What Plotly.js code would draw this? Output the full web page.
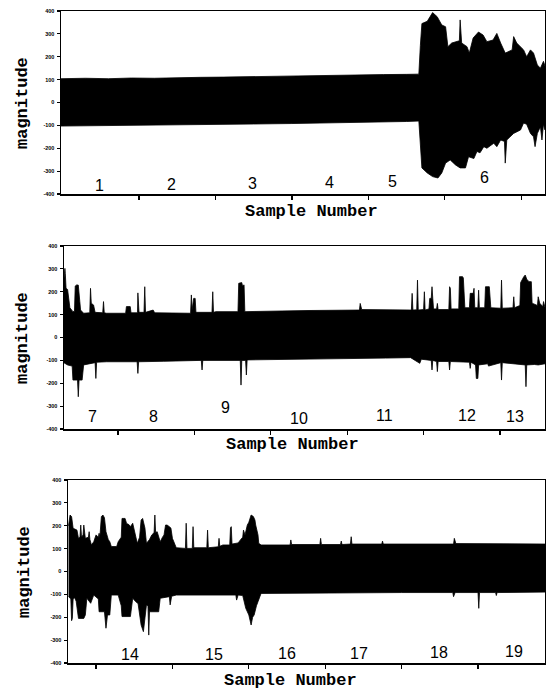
<!DOCTYPE html>
<html><head><meta charset="utf-8">
<script src="https://cdn.plot.ly/plotly-3.0.1.min.js"></script>
<style>html,body{margin:0;padding:0;background:#fff}</style>
</head><body><div id="chart" style="width:546px;height:691px"></div>
<script>
// ---------- data (x in tick units of "Sample Number", y = magnitude) ----------
const magTicks = [-400,-300,-200,-100,0,100,200,300,400];
const sampleTicks = [1,2,3,4,5,6];

// Panel 1 (segments 1-6)
const p1UpperX = [-0.02,0.3,0.6,0.9,1.2,1.5,1.8,2.1,2.4,2.7,3.0,3.3,3.6,3.9,4.2,4.5,4.66,4.68,4.70,4.77,4.84,4.90,4.96,5.01,5.04,5.09,5.16,5.19,5.20,5.22,5.29,5.32,5.37,5.44,5.50,5.55,5.63,5.68,5.73,5.79,5.88,5.90,5.94,6.03,6.07,6.12,6.16,6.21,6.25,6.29,6.31];
const p1UpperY = [104,106,104,107,106,109,110,111,113,113,115,116,118,120,122,123,124,250,345,355,393,375,339,331,244,260,266,270,361,260,244,216,282,308,295,266,273,302,260,216,230,288,260,230,200,230,216,164,150,180,160];
const p1LowerX = [-0.02,0.5,1.0,1.5,2.0,2.5,3.0,3.5,4.0,4.5,4.66,4.68,4.70,4.77,4.84,4.91,4.96,5.01,5.07,5.14,5.20,5.27,5.31,5.38,5.42,5.46,5.51,5.55,5.64,5.68,5.73,5.78,5.79,5.81,5.90,5.99,6.03,6.07,6.12,6.16,6.18,6.21,6.25,6.27,6.29,6.31];
const p1LowerY = [-103,-102,-100,-97,-96,-94,-92,-89,-87,-83,-81,-200,-286,-308,-324,-330,-308,-265,-251,-273,-286,-286,-237,-245,-214,-220,-193,-200,-178,-193,-164,-170,-265,-164,-135,-120,-90,-95,-135,-150,-193,-135,-106,-164,-95,-120];
const p1Labels = ["1","2","3","4","5","6"];
const p1LabelX = [0.48,1.43,2.48,3.49,4.32,5.52];
const p1LabelY = [-362,-360,-352,-348,-345,-330];

// Panel 2 (segments 7-13)
const p2UpperX = [0.29,0.305,0.31,0.32,0.34,0.37,0.41,0.43,0.44,0.46,0.48,0.49,0.50,0.51,0.55,0.63,0.64,0.65,0.68,0.70,0.80,0.81,0.82,0.85,1.10,1.11,1.16,1.17,1.255,1.26,1.27,1.275,1.34,1.35,1.36,1.46,1.48,1.95,1.96,1.97,1.99,2.01,2.02,2.23,2.24,2.25,2.28,2.57,2.58,2.62,2.63,2.65,2.66,3.0,3.5,4.16,4.17,4.19,4.84,4.85,4.86,4.91,4.92,4.93,5.00,5.01,5.02,5.07,5.08,5.10,5.11,5.12,5.13,5.17,5.18,5.19,5.33,5.34,5.35,5.36,5.46,5.47,5.51,5.52,5.54,5.60,5.61,5.65,5.66,5.67,5.71,5.72,5.73,5.80,5.81,5.86,5.88,6.01,6.02,6.03,6.17,6.18,6.19,6.26,6.27,6.31,6.33,6.35,6.38,6.41,6.42,6.49,6.50,6.52,6.56,6.57,6.59];
const p2UpperY = [250,302,280,215,210,130,113,115,225,230,229,160,157,120,106,108,215,150,142,110,108,157,108,106,106,135,135,108,108,195,160,110,110,222,110,120,108,106,186,120,171,171,110,110,200,110,113,113,237,240,225,230,113,116,118,120,149,122,120,193,120,121,251,120,122,200,120,125,171,171,222,171,125,125,149,122,122,222,215,125,125,266,266,260,130,130,193,193,215,130,130,207,130,130,222,222,130,128,251,128,130,178,130,140,240,265,273,255,244,244,150,140,178,150,135,157,130];
const p2LowerX = [0.29,0.34,0.40,0.41,0.47,0.48,0.49,0.53,0.55,0.70,0.71,0.72,0.85,1.25,1.26,1.27,1.6,2.09,2.10,2.11,2.60,2.61,2.62,2.67,2.68,2.69,3.5,4.5,4.83,4.95,4.97,5.10,5.11,5.12,5.17,5.18,5.19,5.33,5.34,5.35,5.60,5.61,5.62,5.68,5.69,5.71,5.72,5.84,5.85,6.01,6.02,6.03,6.33,6.34,6.35,6.45,6.50,6.59];
const p2LowerY = [-110,-120,-125,-186,-186,-259,-186,-186,-120,-110,-179,-108,-106,-106,-157,-106,-104,-100,-142,-100,-100,-208,-100,-100,-164,-98,-94,-90,-88,-113,-95,-100,-142,-100,-105,-149,-105,-105,-142,-105,-108,-135,-108,-120,-179,-179,-120,-115,-125,-110,-186,-110,-120,-215,-120,-118,-120,-115];
const p2Labels = ["7","8","9","10","11","12","13"];
const p2LabelX = [0.66,1.46,2.41,3.37,4.49,5.57,6.20];
const p2LabelY = [-346,-346,-308,-352,-340,-340,-346];

// Panel 3 (segments 14-19)
const p3UpperX = [0.64,0.66,0.68,0.70,0.75,0.77,0.79,0.80,0.81,0.83,0.84,0.85,0.86,0.90,0.91,0.92,0.94,0.97,1.00,1.03,1.04,1.05,1.07,1.09,1.11,1.13,1.16,1.18,1.20,1.27,1.29,1.33,1.34,1.38,1.40,1.43,1.45,1.48,1.50,1.52,1.54,1.57,1.59,1.61,1.64,1.66,1.70,1.73,1.76,1.77,1.78,1.80,1.82,1.84,1.87,1.89,1.91,1.93,1.96,1.98,2.00,2.05,2.17,2.18,2.19,2.26,2.27,2.28,2.45,2.46,2.47,2.60,2.61,2.62,2.66,2.75,2.76,2.77,2.78,2.86,2.89,2.92,2.93,2.95,2.98,3.00,3.03,3.06,3.08,3.09,3.12,3.13,3.16,3.54,3.55,3.56,3.93,3.94,3.95,4.20,4.21,4.22,4.33,4.34,4.35,4.74,4.75,4.76,5.68,5.69,5.71,6.0,6.5,6.88];
const p3UpperY = [200,247,240,189,181,145,150,203,150,160,203,160,145,150,174,140,116,130,160,150,167,150,240,247,235,174,140,130,109,109,130,150,232,232,210,205,196,211,180,160,123,150,225,232,190,123,140,160,170,247,170,174,150,130,150,160,203,203,196,190,145,104,101,211,101,101,196,104,104,181,104,108,145,110,116,116,190,196,120,125,138,150,181,160,203,215,247,240,225,203,160,123,116,116,138,118,118,145,118,118,133,118,120,152,120,120,133,120,120,145,122,122,120,120];
const p3LowerX = [0.64,0.67,0.68,0.69,0.70,0.72,0.74,0.77,0.84,0.86,0.88,0.93,0.97,1.03,1.04,1.11,1.13,1.15,1.18,1.20,1.29,1.33,1.34,1.45,1.48,1.52,1.55,1.59,1.62,1.64,1.66,1.68,1.69,1.70,1.77,1.82,1.84,1.96,1.97,1.99,2.05,2.5,2.83,2.84,2.86,2.92,2.96,3.00,3.03,3.05,3.07,3.10,3.12,3.16,4.0,5.0,5.67,5.68,5.70,6.00,6.01,6.02,6.23,6.24,6.25,6.88];
const p3LowerY = [-110,-120,-215,-205,-120,-115,-130,-205,-205,-190,-117,-139,-103,-120,-176,-176,-248,-190,-190,-103,-103,-150,-197,-197,-117,-132,-140,-234,-263,-200,-146,-150,-278,-176,-176,-176,-117,-110,-146,-108,-103,-103,-103,-125,-103,-105,-161,-190,-234,-200,-190,-150,-132,-96,-94,-92,-92,-110,-92,-92,-161,-92,-92,-105,-92,-90];
const p3Labels = ["14","15","16","17","18","19"];
const p3LabelX = [1.45,2.54,3.50,4.44,5.49,6.47];
const p3LabelY = [-365,-365,-358,-358,-354,-350];

// ---------- build figure ----------
function envelope(ux, uy, lx, ly, xa, ya) {
  return {
    type: 'scatter', mode: 'lines', xaxis: xa, yaxis: ya,
    x: ux.concat(lx.slice().reverse()),
    y: uy.concat(ly.slice().reverse()),
    fill: 'toself', fillcolor: '#000', line: {color: '#000', width: 0.8},
    hoverinfo: 'skip', showlegend: false
  };
}
const data = [
  envelope(p1UpperX, p1UpperY, p1LowerX, p1LowerY, 'x', 'y'),
  envelope(p2UpperX, p2UpperY, p2LowerX, p2LowerY, 'x2', 'y2'),
  envelope(p3UpperX, p3UpperY, p3LowerX, p3LowerY, 'x3', 'y3')
];

const W = 546, H = 691;
function xAxis(l, range, anchor) {
  return {domain: [l / W, 545 / W], range: range, anchor: anchor,
    showline: true, mirror: true, linecolor: '#000', linewidth: 1.5,
    showgrid: false, zeroline: false, ticks: 'outside', ticklen: 4, tickwidth: 1.2,
    tickcolor: '#000', tickvals: sampleTicks, showticklabels: false, fixedrange: true};
}
function yAxis(t, b, anchor) {
  return {domain: [1 - b / H, 1 - t / H], range: [-400, 400], anchor: anchor,
    showline: true, mirror: true, linecolor: '#000', linewidth: 1.5,
    showgrid: false, zeroline: false, ticks: 'outside', ticklen: 3, tickwidth: 1.2,
    tickcolor: '#000', tickvals: magTicks, ticktext: magTicks.map(String),
    tickfont: {family: 'Liberation Sans', size: 5.5, color: '#000', weight: 'bold'},
    ticklabelstandoff: 1, fixedrange: true};
}

const monoFont = {family: 'Liberation Mono', size: 17, color: '#000', weight: 'bold'};
const digitFont = {family: 'Liberation Sans', size: 16, color: '#000'};
const annotations = [];
function segLabels(labels, xs, ys, xr, yr) {
  labels.forEach((t, i) => annotations.push({text: t, x: xs[i], y: ys[i], xref: xr, yref: yr,
    showarrow: false, font: digitFont, xanchor: 'center', yanchor: 'middle'}));
}
segLabels(p1Labels, p1LabelX, p1LabelY, 'x', 'y');
segLabels(p2Labels, p2LabelX, p2LabelY, 'x2', 'y2');
segLabels(p3Labels, p3LabelX, p3LabelY, 'x3', 'y3');

const xTitlePos = [[311, 211], [292, 444], [290, 680]];
const yTitlePos = [[22, 103], [22, 338], [24, 572]];
xTitlePos.forEach(p => annotations.push({text: 'Sample Number', x: p[0] / W, y: 1 - p[1] / H,
  xref: 'paper', yref: 'paper', showarrow: false, font: monoFont, xanchor: 'center', yanchor: 'middle'}));
yTitlePos.forEach(p => annotations.push({text: 'magnitude', x: p[0] / W, y: 1 - p[1] / H,
  xref: 'paper', yref: 'paper', showarrow: false, font: monoFont, textangle: -90,
  xanchor: 'center', yanchor: 'middle'}));

const layout = {
  width: W, height: H, margin: {l: 0, r: 0, t: 0, b: 0},
  paper_bgcolor: '#fff', plot_bgcolor: '#fff', showlegend: false,
  xaxis: xAxis(61, [-0.02, 6.31], 'y'),
  yaxis: yAxis(11, 194, 'x'),
  xaxis2: xAxis(64, [0.293, 6.589], 'y2'),
  yaxis2: yAxis(246, 429, 'x2'),
  xaxis3: xAxis(68, [0.633, 6.877], 'y3'),
  yaxis3: yAxis(480, 663, 'x3'),
  annotations: annotations
};
Plotly.newPlot('chart', data, layout, {staticPlot: true, displayModeBar: false});
</script>
</body></html>
